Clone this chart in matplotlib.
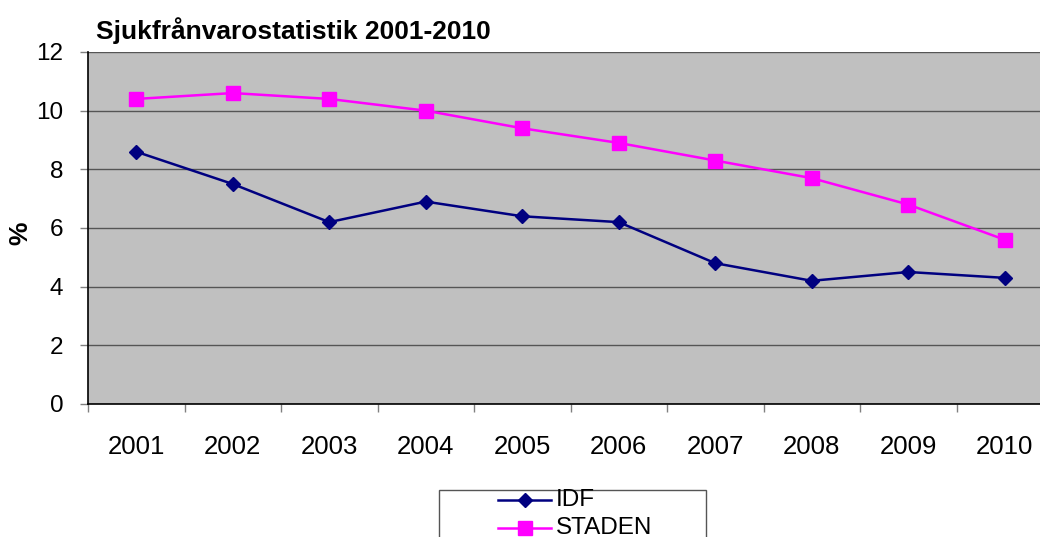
import matplotlib
matplotlib.use("Agg")
import matplotlib.pyplot as plt
from matplotlib.lines import Line2D
from matplotlib.patches import Rectangle
import numpy as np

plt.rcParams['font.family'] = ['Liberation Sans', 'DejaVu Sans']

years = ['2001', '2002', '2003', '2004', '2005', '2006', '2007', '2008', '2009', '2010']
idf = [8.6, 7.5, 6.2, 6.9, 6.4, 6.2, 4.8, 4.2, 4.5, 4.3]
staden = [10.4, 10.6, 10.4, 10.0, 9.4, 8.9, 8.3, 7.7, 6.8, 5.6]
series_labels = ['IDF', 'STADEN']
title = 'Sjukfrånvarostatistik 2001-2010'
ylabel = '%'

W, H = 1040, 537
fig = plt.figure(figsize=(W / 100, H / 100), dpi=100)
left, right, top, bottom = 88, 1053, 52, 404
ax = fig.add_axes([left / W, 1 - bottom / H, (right - left) / W, (bottom - top) / H])
ax.set_facecolor('#C0C0C0')

x = np.arange(len(years))
ax.plot(x, idf, color='#000080', lw=1.8, marker='D', markersize=7.2, zorder=3)
ax.plot(x, staden, color='#FF00FF', lw=1.8, marker='s', markersize=10.5, zorder=3)

ax.set_xlim(-0.5, len(years) - 0.5)
ax.set_ylim(0, 12)
ax.set_yticks(range(0, 13, 2))
ax.tick_params(axis='y', labelsize=17.5, length=5.8, width=1, color='#808080', pad=12)
ax.set_xticks(x)
ax.set_xticklabels(years)
ax.tick_params(axis='x', which='major', labelsize=18.5, length=0, pad=22)
ax.set_xticks(np.arange(-0.5, len(years), 1), minor=True)
ax.tick_params(axis='x', which='minor', length=5.8, width=1, color='#808080')
ax.grid(axis='y', color='#555555', lw=1)
ax.set_axisbelow(True)
for s in ['top', 'right']:
    ax.spines[s].set_visible(False)
for s in ['left', 'bottom']:
    ax.spines[s].set_color('black')
    ax.spines[s].set_linewidth(1.2)
    ax.spines[s].set_zorder(4)

fig.text(96 / W, 1 - 31 / H, title, fontsize=19, fontweight='bold', va='center', ha='left')
fig.text(20 / W, 1 - 233 / H, ylabel, fontsize=19, fontweight='bold', rotation=90, va='center', ha='center')

# legend box
fig.add_artist(Rectangle((439 / W, 1 - 560 / H), 267 / W, 70 / H, transform=fig.transFigure,
                         facecolor='white', edgecolor='#555555', lw=1))
styles = [dict(color='#000080', marker='D', markersize=7.2), dict(color='#FF00FF', marker='s', markersize=10.5)]
for i, (lab, st) in enumerate(zip(series_labels, styles)):
    yy = 1 - (500 + 28 * i) / H
    fig.add_artist(Line2D([498 / W, 551 / W], [yy, yy], transform=fig.transFigure, lw=1.8,
                          color=st['color']))
    fig.add_artist(Line2D([524.5 / W], [yy], transform=fig.transFigure, lw=0,
                          marker=st['marker'], markersize=st['markersize'], color=st['color']))
    fig.text(556 / W, yy, lab, fontsize=17.5, va='center', ha='left')

fig.savefig('out.png', dpi=100)
